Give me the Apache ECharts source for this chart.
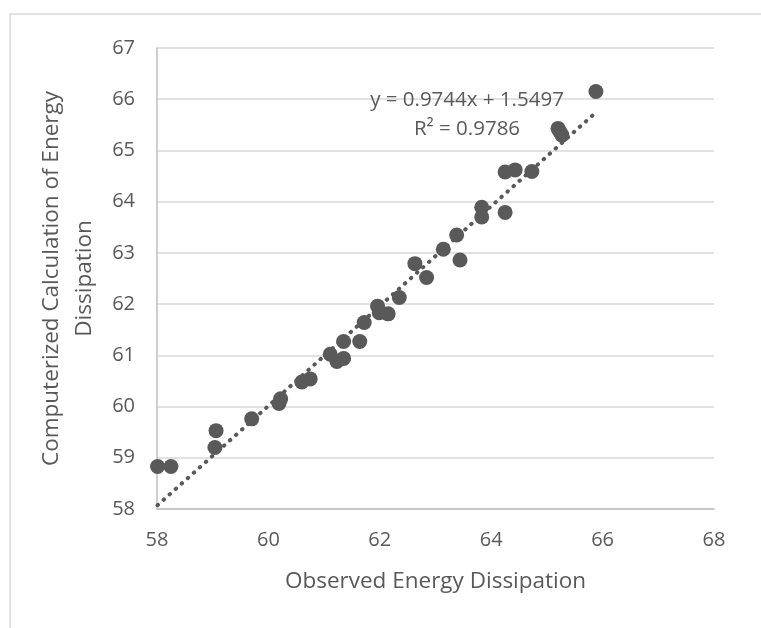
<!DOCTYPE html>
<html>
<head>
<meta charset="utf-8">
<script src="https://cdn.jsdelivr.net/npm/echarts@6/dist/echarts.min.js"></script>
<style>
html,body{margin:0;padding:0;background:#fff;}
#chart{width:761px;height:628px;}
</style>
</head>
<body>
<div id="chart"></div>
<script>
var observed = [58.01, 58.25, 59.04, 59.06, 59.70, 60.19, 60.22, 60.60, 60.75, 61.11, 61.23, 61.35, 61.35, 61.64, 61.72, 61.96, 61.99, 62.15, 62.35, 62.63, 62.84, 63.14, 63.38, 63.44, 63.83, 63.83, 64.25, 64.25, 64.43, 64.73, 65.20, 65.23, 65.27, 65.88];
var computed = [58.83, 58.83, 59.20, 59.53, 59.76, 60.06, 60.15, 60.48, 60.54, 61.02, 60.88, 60.94, 61.27, 61.27, 61.64, 61.96, 61.83, 61.81, 62.13, 62.79, 62.52, 63.07, 63.35, 62.86, 63.89, 63.70, 63.79, 64.58, 64.62, 64.59, 65.43, 65.37, 65.30, 66.15];
var slope = 0.9744;
var intercept = 1.5497;
var rSquared = 0.9786;
var xTicks = [58, 60, 62, 64, 66, 68];
var yTicks = [58, 59, 60, 61, 62, 63, 64, 65, 66, 67];
var xTitle = 'Observed Energy Dissipation';
var yTitle = 'Computerized Calculation of Energy\nDissipation';
var eqLine1 = 'y = ' + slope.toFixed(4) + 'x + ' + intercept.toFixed(4);
var eqLine2 = 'R² = ' + rSquared.toFixed(4);

var points = observed.map(function (x, i) { return [x, computed[i]]; });
var xMinData = Math.min.apply(null, observed);
var xMaxData = Math.max.apply(null, observed);
var trend = [[xMinData, slope * xMinData + intercept], [xMaxData, slope * xMaxData + intercept]];

var FONT = '"Open Sans", sans-serif';
var TXT = '#595959';

var chart = echarts.init(document.getElementById('chart'), null, {renderer: 'canvas'});
chart.setOption({
  animation: false,
  backgroundColor: '#ffffff',
  grid: {left: 157, right: 47, top: 48, bottom: 119, containLabel: false},
  xAxis: {
    type: 'value', min: xTicks[0], max: xTicks[xTicks.length - 1], interval: 2,
    name: xTitle, nameLocation: 'middle', nameGap: 61,
    nameTextStyle: {color: TXT, fontFamily: FONT, fontSize: 22.5},
    axisLine: {show: true, lineStyle: {color: '#bfbfbf', width: 1.5}},
    axisTick: {show: false},
    axisLabel: {color: TXT, fontFamily: FONT, fontSize: 20, margin: 21},
    splitLine: {show: false}
  },
  yAxis: {
    type: 'value', min: yTicks[0], max: yTicks[yTicks.length - 1], interval: 1,
    name: yTitle, nameLocation: 'middle', nameGap: 51, nameRotate: 90,
    nameTextStyle: {color: TXT, fontFamily: FONT, fontSize: 22.5, lineHeight: 33, align: 'center'},
    axisLine: {show: true, lineStyle: {color: '#bfbfbf', width: 1.5}},
    axisTick: {show: false},
    axisLabel: {color: TXT, fontFamily: FONT, fontSize: 20, margin: 22},
    splitLine: {show: true, lineStyle: {color: '#d9d9d9', width: 1.5}}
  },
  graphic: [
    {type: 'rect', shape: {x: 10, y: 14, width: 800, height: 700}, style: {fill: 'none', stroke: '#d9d9d9', lineWidth: 1.5}, silent: true, z: -1},
    {type: 'text', x: 467, y: 100, style: {text: eqLine1, align: 'center', verticalAlign: 'middle', fill: TXT, font: '20.5px "Open Sans", sans-serif'}, z: 10},
    {type: 'text', x: 467, y: 129, style: {text: eqLine2, align: 'center', verticalAlign: 'middle', fill: TXT, font: '20.5px "Open Sans", sans-serif'}, z: 10}
  ],
  series: [
    {
      type: 'line', data: trend, symbol: 'none', silent: true, z: 3,
      lineStyle: {color: '#595959', width: 4, type: [0.5, 7.6], cap: 'round'}
    },
    {
      type: 'scatter', data: points, symbol: 'circle', symbolSize: 15, z: 4,
      itemStyle: {color: '#595959', opacity: 1}
    }
  ]
});
</script>
</body>
</html>
